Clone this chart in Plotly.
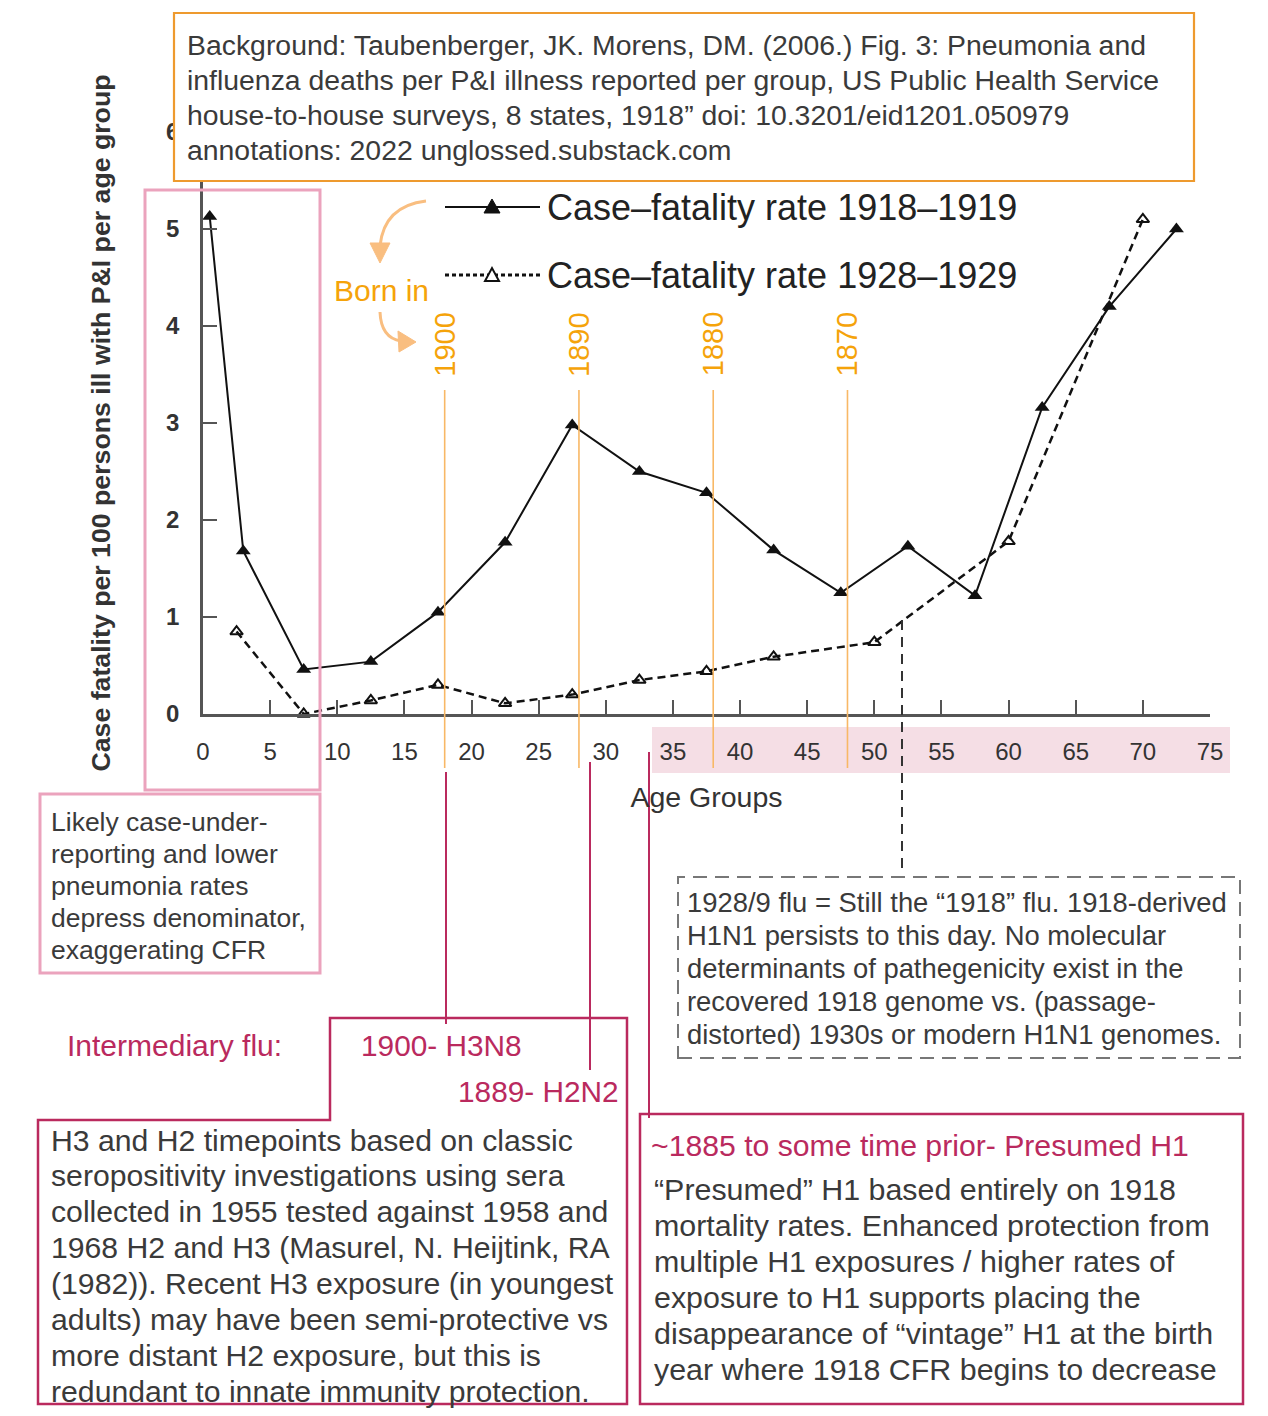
import plotly.graph_objects as go

# ---------------- data ----------------
ages_1918 = [0.5, 3, 7.5, 12.5, 17.5, 22.5, 27.5, 32.5, 37.5, 42.5, 47.5, 52.5, 57.5, 62.5, 67.5, 72.5]
cfr_1918 = [5.13, 1.68, 0.46, 0.54, 1.05, 1.77, 2.98, 2.50, 2.28, 1.69, 1.25, 1.73, 1.22, 3.16, 4.20, 5.00]

ages_1928 = [2.5, 7.5, 12.5, 17.5, 22.5, 27.5, 32.5, 37.5, 42.5, 50, 60, 70]
cfr_1928 = [0.85, 0.00, 0.14, 0.30, 0.11, 0.20, 0.35, 0.44, 0.59, 0.74, 1.78, 5.10]

birth_ages = [18, 28, 38, 48]
birth_years = ["1900", "1890", "1880", "1870"]

x_ticks = list(range(0, 80, 5))
y_ticks = list(range(0, 7))

name_1918 = "Case\u2013fatality rate 1918\u20131919"
name_1928 = "Case\u2013fatality rate 1928\u20131929"

source_lines = [
    "Background: Taubenberger, JK. Morens, DM. (2006.) Fig. 3: Pneumonia and",
    "influenza deaths per P&I illness reported per group, US Public Health Service",
    "house-to-house surveys, 8 states, 1918\u201d doi: 10.3201/eid1201.050979",
    "annotations: 2022 unglossed.substack.com",
]
child_lines = [
    "Likely case-under-",
    "reporting and lower",
    "pneumonia rates",
    "depress denominator,",
    "exaggerating CFR",
]
note1928_lines = [
    "1928/9 flu = Still the \u201c1918\u201d flu. 1918-derived",
    "H1N1 persists to this day. No molecular",
    "determinants of pathegenicity exist in the",
    "recovered 1918 genome vs. (passage-",
    "distorted) 1930s or modern H1N1 genomes.",
]
h3h2_lines = [
    "H3 and H2 timepoints based on classic",
    "seropositivity investigations using sera",
    "collected in 1955 tested against 1958 and",
    "1968 H2 and H3 (Masurel, N. Heijtink, RA",
    "(1982)). Recent H3 exposure (in youngest",
    "adults) may have been semi-protective vs",
    "more distant H2 exposure, but this is",
    "redundant to innate immunity protection.",
]
h1_lines = [
    "\u201cPresumed\u201d H1 based entirely on 1918",
    "mortality rates. Enhanced protection from",
    "multiple H1 exposures / higher rates of",
    "exposure to H1 supports placing the",
    "disappearance of \u201cvintage\u201d H1 at the birth",
    "year where 1918 CFR begins to decrease",
]

# ---------------- geometry helpers (pixel -> paper) ----------------
W, H = 1268, 1416
L, R, T, B = 203, 1210, 132, 714


def fx(p):
    return (p - L) / (R - L)


def fy(p):
    return (B - p) / (B - T)


def path(pts, close=True):
    s = "M " + " L ".join(f"{fx(x):.5f},{fy(y):.5f}" for x, y in pts)
    return s + (" Z" if close else "")


FONT = "Liberation Sans, Arial, sans-serif"
ORANGE_BOX = "#EE9A2E"
ORANGE_TXT = "#F5A30A"
ORANGE_LINE = "#F8B866"
ARROW = "#F9BE80"
PINK = "#EBA3BD"
PINK_FILL = "#F5DEE5"
CRIMSON = "#BA2A5E"
TXT = "#3a3a3a"
AX = "#555555"

fig = go.Figure()

fig.add_trace(go.Scatter(
    x=ages_1918, y=cfr_1918, name=name_1918, mode="lines+markers",
    line=dict(color="#111111", width=2),
    marker=dict(symbol="triangle-up", size=13, color="#111111"),
    showlegend=False, cliponaxis=False,
))
fig.add_trace(go.Scatter(
    x=ages_1928, y=cfr_1928, name=name_1928, mode="lines+markers",
    line=dict(color="#111111", width=2.5, dash="8px,5px"),
    marker=dict(symbol="triangle-up-open", size=11, color="#111111", line=dict(width=2)),
    showlegend=False, cliponaxis=False,
))

shapes = []
annotations = []


def text_at(x_left, y_mid, text, size, color=TXT):
    annotations.append(dict(xref="paper", yref="paper", x=fx(x_left - 3), y=fy(y_mid),
                            text=text, xanchor="left", yanchor="middle", align="left",
                            showarrow=False, font=dict(family=FONT, size=size, color=color)))


def text_block(lines, x_left, y_first, spacing, size, color=TXT):
    for i, ln in enumerate(lines):
        text_at(x_left, y_first + i * spacing, ln, size, color)


# pink highlight behind x tick labels 35-75
shapes.append(dict(type="rect", xref="paper", yref="paper",
                   x0=fx(652), x1=fx(1230), y0=fy(727), y1=fy(773),
                   fillcolor=PINK_FILL, line=dict(width=0), layer="below"))

# orange birth-year lines
for a in birth_ages:
    shapes.append(dict(type="line", xref="x", yref="paper", x0=a, x1=a,
                       y0=fy(390), y1=fy(768), line=dict(color=ORANGE_LINE, width=1.6)))
for a, yr in zip(birth_ages, birth_years):
    annotations.append(dict(xref="x", yref="paper", x=a, y=fy(344), text=yr,
                            textangle=-90, showarrow=False, xanchor="center", yanchor="middle",
                            font=dict(family=FONT, size=29, color=ORANGE_TXT)))

# top source box
shapes.append(dict(type="rect", xref="paper", yref="paper",
                   x0=fx(174), x1=fx(1194), y0=fy(181), y1=fy(13),
                   fillcolor="white", line=dict(color=ORANGE_BOX, width=2.2), layer="above"))
text_block(source_lines, 188, 45, 35, 28.4)

# legend (custom, long line samples)
shapes.append(dict(type="line", xref="paper", yref="paper", x0=fx(445), x1=fx(540),
                   y0=fy(207), y1=fy(207), line=dict(color="#111111", width=2)))
shapes.append(dict(type="path", xref="paper", yref="paper",
                   path=path([(484, 213), (500, 213), (492, 199)]),
                   fillcolor="#111111", line=dict(color="#111111", width=1)))
shapes.append(dict(type="line", xref="paper", yref="paper", x0=fx(445), x1=fx(540),
                   y0=fy(275), y1=fy(275), line=dict(color="#111111", width=3, dash="4px,3px")))
shapes.append(dict(type="path", xref="paper", yref="paper",
                   path=path([(485, 281), (499, 281), (492, 268)]),
                   fillcolor="white", line=dict(color="#111111", width=2)))
text_at(548, 207, name_1918, 36, "#222222")
text_at(548, 275, name_1928, 36, "#222222")

# "Born in" and curved arrows
text_at(335, 290, "Born in", 30, ORANGE_TXT)
shapes.append(dict(type="path", xref="paper", yref="paper",
                   path=f"M {fx(426):.5f},{fy(201):.5f} Q {fx(384):.5f},{fy(206):.5f} {fx(380):.5f},{fy(246):.5f}",
                   line=dict(color=ARROW, width=3)))
shapes.append(dict(type="path", xref="paper", yref="paper",
                   path=path([(370, 243), (390, 243), (380, 263)]),
                   fillcolor=ARROW, line=dict(color=ARROW, width=1)))
shapes.append(dict(type="path", xref="paper", yref="paper",
                   path=f"M {fx(380):.5f},{fy(312):.5f} Q {fx(381):.5f},{fy(338):.5f} {fx(401):.5f},{fy(341):.5f}",
                   line=dict(color=ARROW, width=3)))
shapes.append(dict(type="path", xref="paper", yref="paper",
                   path=path([(398, 331), (416, 342), (399, 352)]),
                   fillcolor=ARROW, line=dict(color=ARROW, width=1)))

# pink boxes (young children)
shapes.append(dict(type="rect", xref="paper", yref="paper",
                   x0=fx(145), x1=fx(320), y0=fy(790), y1=fy(190),
                   line=dict(color=PINK, width=3), layer="above"))
shapes.append(dict(type="rect", xref="paper", yref="paper",
                   x0=fx(40), x1=fx(320), y0=fy(973), y1=fy(794),
                   line=dict(color=PINK, width=3), layer="above"))
text_block(child_lines, 52, 822, 32, 26.5)

# black dashed pointer + dashed box (1928/9 note)
shapes.append(dict(type="line", xref="paper", yref="paper", x0=fx(902), x1=fx(902),
                   y0=fy(620), y1=fy(870), line=dict(color="#333333", width=2, dash="10px,7px")))
shapes.append(dict(type="rect", xref="paper", yref="paper",
                   x0=fx(678), x1=fx(1240), y0=fy(1058), y1=fy(877),
                   line=dict(color="#777777", width=2, dash="14px,8px")))
text_block(note1928_lines, 688, 902, 33, 27.4)

# crimson pointer lines
for xp, ytop, ybot in [(446, 772, 1024), (590, 762, 1070), (649, 752, 1118)]:
    shapes.append(dict(type="line", xref="paper", yref="paper", x0=fx(xp), x1=fx(xp),
                       y0=fy(ytop), y1=fy(ybot), line=dict(color=CRIMSON, width=2)))

# crimson left (stepped) box
shapes.append(dict(type="path", xref="paper", yref="paper",
                   path=path([(330, 1018), (627, 1018), (627, 1404), (38, 1404), (38, 1120), (330, 1120)]),
                   line=dict(color=CRIMSON, width=2.5)))
# crimson right box
shapes.append(dict(type="rect", xref="paper", yref="paper",
                   x0=fx(640), x1=fx(1243), y0=fy(1404), y1=fy(1114),
                   line=dict(color=CRIMSON, width=2.5)))

text_at(68, 1045, "Intermediary flu:", 30, CRIMSON)
text_at(362, 1045, "1900- H3N8", 29.8, CRIMSON)
text_at(459, 1091, "1889- H2N2", 29.8, CRIMSON)
text_block(h3h2_lines, 52, 1140, 35.9, 30.2)
text_at(652, 1145, "~1885 to some time prior- Presumed H1", 30.2, CRIMSON)
text_block(h1_lines, 655, 1189, 36, 30.4)

fig.update_layout(
    width=W, height=H,
    margin=dict(l=L, r=W - R, t=T, b=H - B, autoexpand=False),
    paper_bgcolor="white", plot_bgcolor="white",
    showlegend=False,
    shapes=shapes, annotations=annotations,
    font=dict(family=FONT, color="#333333"),
)
fig.update_xaxes(
    range=[0, 75], tickvals=x_ticks, ticks="inside", ticklen=14, tickwidth=2, tickcolor=AX,
    showline=True, linecolor=AX, linewidth=2.5, showgrid=False, zeroline=False,
    tickfont=dict(family=FONT, size=24, color="#333333"), ticklabelstandoff=14,
    title=dict(text="Age Groups", font=dict(family=FONT, size=28.5, color="#333333"), standoff=24),
    automargin=False,
)
fig.update_yaxes(
    range=[0, 6], tickvals=y_ticks, ticks="inside", ticklen=14, tickwidth=2, tickcolor=AX,
    showline=True, linecolor=AX, linewidth=2.5, showgrid=False, zeroline=False,
    tickfont=dict(family=FONT, size=24, color="#333333", weight="bold"), ticklabelstandoff=16,
    title=dict(text="Case fatality per 100 persons ill with P&I per age group",
               font=dict(family=FONT, size=26.7, color="#333333", weight="bold"), standoff=48),
    automargin=False,
)

fig.write_html("out.html", config={"displayModeBar": False},
               post_script="document.body.style.margin='0';")
